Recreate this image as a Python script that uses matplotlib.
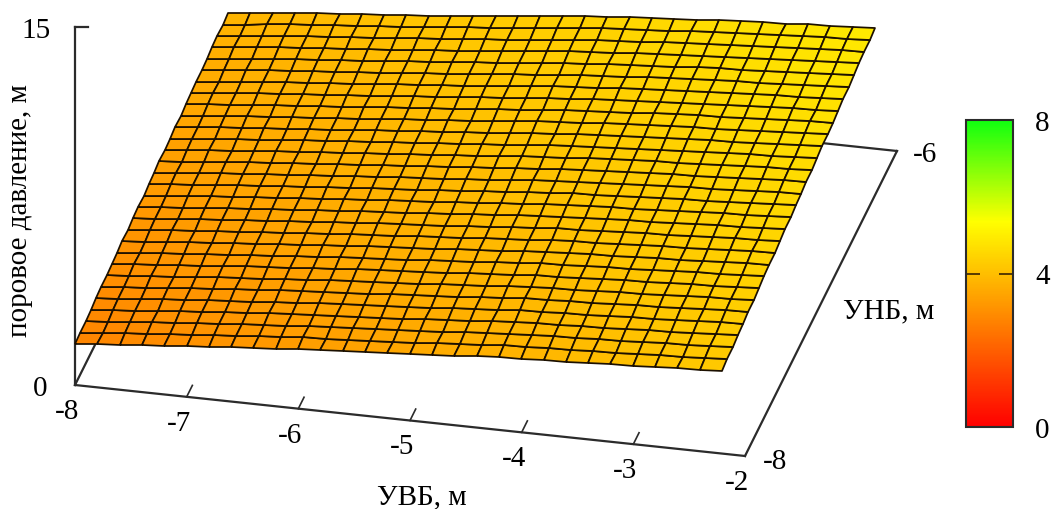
import numpy as np
import matplotlib
matplotlib.use("Agg")
import matplotlib.pyplot as plt
from matplotlib.colors import LinearSegmentedColormap, Normalize
from matplotlib.cm import ScalarMappable

plt.rcParams['font.family'] = ['Liberation Serif', 'DejaVu Serif']

# Data
x_ticks = [-8, -7, -6, -5, -4, -3, -2]
y_ticks = [-8, -6]
z_ticks = [0, 15]
cbar_ticks = [0, 4, 8]
x_nodes = np.linspace(-8, -2.206, 30)
y_nodes = np.linspace(-8, -5.987, 30)
z_front = [1.72, 1.80, 1.88, 1.96, 2.04, 2.12, 2.20, 2.27, 2.35, 2.42,
           2.50, 2.55, 2.60, 2.66, 2.71, 2.77, 2.84, 2.91, 2.98, 3.06,
           3.09, 3.13, 3.16, 3.20, 3.24, 3.28, 3.33, 3.37, 3.42, 3.46]
z_back = [2.72, 2.82, 2.92, 3.02, 3.10, 3.18, 3.26, 3.34, 3.42, 3.51,
          3.60, 3.69, 3.78, 3.87, 3.97, 4.07, 4.17, 4.25, 4.32, 4.39,
          4.46, 4.53, 4.60, 4.66, 4.71, 4.76, 4.82, 4.87, 4.92, 4.97]
c_front = [2.80, 2.85, 2.90, 2.95, 3.00, 3.05, 3.10, 3.15, 3.20, 3.25,
           3.30, 3.35, 3.40, 3.45, 3.50, 3.55, 3.60, 3.65, 3.70, 3.75,
           3.80, 3.85, 3.90, 3.95, 4.00, 4.05, 4.10, 4.15, 4.20]
c_back = [3.80, 3.84, 3.88, 3.92, 3.96, 4.00, 4.04, 4.08, 4.12, 4.16,
          4.20, 4.24, 4.28, 4.32, 4.36, 4.40, 4.44, 4.48, 4.52, 4.56,
          4.60, 4.64, 4.68, 4.72, 4.76, 4.80, 4.84, 4.87, 4.90]

W, H = 1051, 510
fig = plt.figure(figsize=(W / 100, H / 100), dpi=100, facecolor='white')
ax = fig.add_axes([0, 0, 1, 1])
ax.set_xlim(0, W)
ax.set_ylim(H, 0)
ax.axis('off')


def proj(x, y, z):
    """Oblique 3D view: data values to picture position."""
    x, y, z = np.asarray(x, float), np.asarray(y, float), np.asarray(z, float)
    px = 75 + (x + 8) * 670 / 6 + (y + 8) * 76
    py = 386 + (x + 8) * 71 / 6 - (y + 8) * 152.5 - z * 358 / 15
    return px, py


cmap = LinearSegmentedColormap.from_list(
    'rg', [(0, '#ff0000'), (0.67, '#ffff00'), (1, '#10ff10')])
norm = Normalize(0, 8)

axc = '#2b2b2b'
lw = 1.6
for a, b in [((-8, -8), (-2, -8)), ((-2, -8), (-2, -6)), ((-2, -6), (-8, -6)), ((-8, -6), (-8, -8))]:
    lx, ly = proj([a[0], b[0]], [a[1], b[1]], [0, 0])
    ax.plot(lx, ly, color=axc, lw=lw, solid_capstyle='projecting')
lx, ly = proj([-8, -8], [-8, -8], z_ticks)
ax.plot(lx, ly, color=axc, lw=lw, solid_capstyle='projecting')
ax.plot([lx[1], lx[1] + 13], [ly[1], ly[1]], color=axc, lw=lw)

for t in x_ticks[1:-1]:
    tx, ty = proj([t, t], [-8, -7.925], [0, 0])
    ax.plot(tx, ty, color=axc, lw=1.2)

# surface
XX, YY = np.meshgrid(x_nodes, y_nodes)
zf, zb = np.array(z_front), np.array(z_back)
w = (y_nodes - y_nodes[0]) / (y_nodes[-1] - y_nodes[0])
ZZ = np.outer(1 - w, zf) + np.outer(w, zb)
PX, PY = proj(XX, YY, ZZ)
cf, cb = np.array(c_front), np.array(c_back)
wc = (w[:-1] + w[1:]) / 2
CC = np.outer(1 - wc, cf) + np.outer(wc, cb)
ax.pcolormesh(PX, PY, CC, cmap=cmap, norm=norm, shading='flat',
              edgecolors='#1c1000', linewidth=1.25, antialiased=True, zorder=3)

fs = 21
for t in x_ticks:
    tx, ty = proj(t, -8, 0)
    ax.text(tx - 8, ty + 26, str(t), fontsize=fs, ha='center', va='center')
tx, ty = proj(-2, -8, 0)
ax.text(tx + 30, ty + 5, str(y_ticks[0]), fontsize=fs, ha='center', va='center')
tx, ty = proj(-2, -6, 0)
ax.text(tx + 28, ty + 3, str(y_ticks[1]), fontsize=fs, ha='center', va='center')
for z, dx in zip(z_ticks, (-35, -39)):
    tx, ty = proj(-8, -8, z)
    ax.text(tx + dx, ty + 3, str(z), fontsize=fs, ha='center', va='center')

ax.text(422, 497, 'УВБ, м', fontsize=fs, ha='center', va='center')
ax.text(889, 311, 'УНБ, м', fontsize=fs, ha='center', va='center')
ax.text(20, 211, 'поровое давление, м', fontsize=fs, ha='center', va='center', rotation=90)

# colour bar
cax = fig.add_axes([966 / W, 1 - 428 / H, 47 / W, 307 / H])
cb_ = fig.colorbar(ScalarMappable(norm=norm, cmap=cmap), cax=cax, ticks=cbar_ticks)
cax.tick_params(axis='y', left=True, right=True, direction='in', length=10, width=1.3,
                color='#4a3000', labelsize=fs, pad=16)
cb_.outline.set_linewidth(1.5)
cb_.outline.set_edgecolor('#2b2b2b')

fig.savefig('out.png', dpi=100)
